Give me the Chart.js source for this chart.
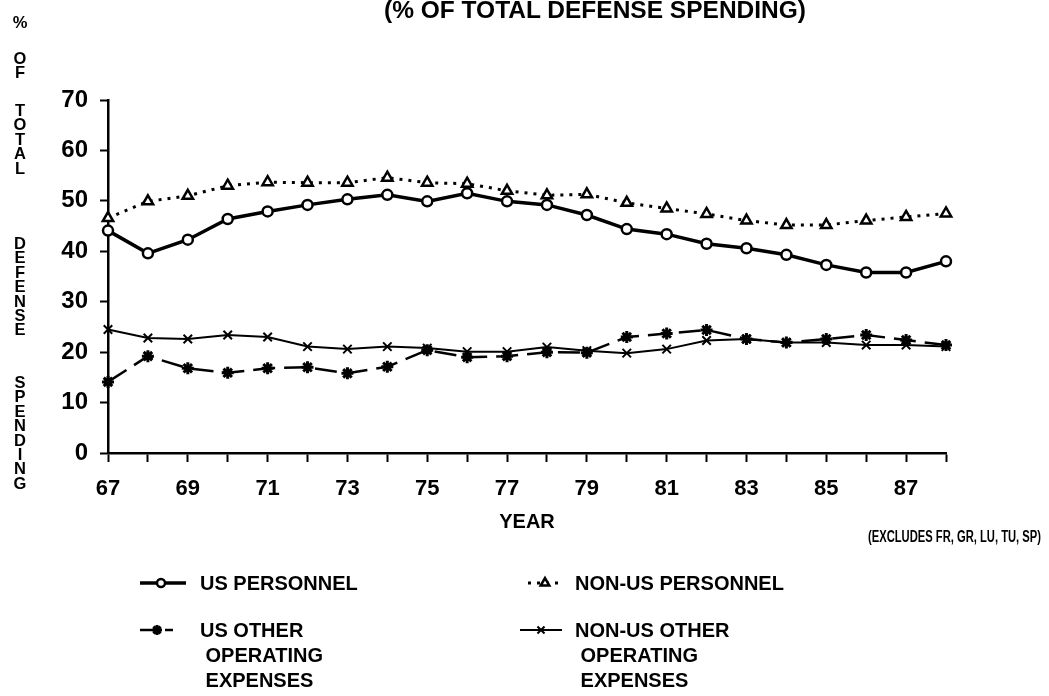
<!DOCTYPE html>
<html>
<head>
<meta charset="utf-8">
<script src="https://cdn.jsdelivr.net/npm/chart.js"></script>
<style>
  body { margin: 0; background: #fff; }
  #wrap { position: relative; width: 1049px; height: 696px; overflow: hidden; font-family: "Liberation Sans", Arial, sans-serif; color: #000; }
  #wrap canvas { position: absolute; left: 0; top: 0; }
  .t { position: absolute; font-weight: bold; white-space: nowrap; }
  .vert { position: absolute; left: 9px; width: 22px; text-align: center; font-weight: bold; font-size: 16.5px; line-height: 14.4px; }
  .leg { font-size: 20px; line-height: 25px; }
</style>
</head>
<body>
<div id="wrap">
  <canvas id="lineChart" width="1049" height="696"></canvas>
  <div class="t" style="left:595px;top:-4px;font-size:24.5px;transform:translateX(-50%);">(% OF TOTAL DEFENSE SPENDING)</div>

  <div class="vert" style="top:15px;">%</div>
  <div class="vert" style="top:51px;">O<br>F</div>
  <div class="vert" style="top:103px;">T<br>O<br>T<br>A<br>L</div>
  <div class="vert" style="top:236px;">D<br>E<br>F<br>E<br>N<br>S<br>E</div>
  <div class="vert" style="top:375px;">S<br>P<br>E<br>N<br>D<br>I<br>N<br>G</div>

  <div class="t" style="left:527px;top:510px;font-size:20px;transform:translateX(-50%);">YEAR</div>
  <div class="t" style="left:868px;top:528px;font-size:16px;transform:scaleX(0.7);transform-origin:left;">(EXCLUDES FR, GR, LU, TU, SP)</div>

  <div class="t leg" style="left:200px;top:571px;">US PERSONNEL</div>
  <div class="t leg" style="left:575px;top:571px;">NON-US PERSONNEL</div>
  <div class="t leg" style="left:200px;top:618px;">US OTHER<br>&nbsp;OPERATING<br>&nbsp;EXPENSES</div>
  <div class="t leg" style="left:575px;top:618px;">NON-US OTHER<br>&nbsp;OPERATING<br>&nbsp;EXPENSES</div>
</div>

<script>
// tahun 1967 - 1988
const years = ["67", "68", "69", "70", "71", "72", "73", "74", "75", "76", "77",
  "78", "79", "80", "81", "82", "83", "84", "85", "86", "87", "88"];

const usPersonnel = [44.1, 39.6, 42.3, 46.4, 47.9, 49.2, 50.3, 51.2, 49.9, 51.5, 49.9,
  49.2, 47.2, 44.4, 43.4, 41.5, 40.6, 39.3, 37.3, 35.8, 35.8, 38.0];
const nonUsPersonnel = [46.6, 49.9, 51.0, 53.0, 53.7, 53.6, 53.6, 54.6, 53.6, 53.4, 52.0,
  51.1, 51.3, 49.6, 48.5, 47.4, 46.1, 45.2, 45.2, 46.1, 46.8, 47.5];
const usOther = [14.1, 19.2, 16.8, 15.9, 16.8, 17.0, 15.8, 17.1, 20.4, 19.0, 19.2,
  20.0, 19.9, 23.0, 23.7, 24.4, 22.6, 21.9, 22.6, 23.4, 22.4, 21.4];
const nonUsOther = [24.5, 22.8, 22.6, 23.4, 23.0, 21.1, 20.6, 21.1, 20.8, 20.1, 20.1,
  21.0, 20.3, 19.8, 20.6, 22.3, 22.6, 21.9, 21.9, 21.4, 21.4, 21.1];

const yTicks = [0, 10, 20, 30, 40, 50, 60, 70];

// gaya tiap seri
const styles = [
  { pointStyle: "circle", radius: 5, borderWidth: 2.5, lineWidth: 3.5, dash: [], fill: "#fff" },
  { pointStyle: "triangle", radius: 6, borderWidth: 2.5, lineWidth: 3, dash: [3, 6], fill: "#fff" },
  { pointStyle: "star", radius: 6, borderWidth: 3, lineWidth: 2.5, dash: [22, 9], fill: "#000" },
  { pointStyle: "crossRot", radius: 6, borderWidth: 2, lineWidth: 2, dash: [], fill: "#000" },
];

function makeDataset(label, data, s) {
  return {
    label: label,
    data: data,
    borderColor: "#000",
    borderWidth: s.lineWidth,
    borderDash: s.dash,
    pointStyle: s.pointStyle,
    pointRadius: s.radius,
    pointBorderWidth: s.borderWidth,
    pointBackgroundColor: s.fill,
    pointBorderColor: "#000",
    tension: 0,
    fill: false,
  };
}

// simbol legenda digambar manual
const legendSymbols = {
  id: "legendSymbols",
  afterDraw(chart) {
    const ctx = chart.ctx;
    const items = [
      { s: styles[0], y: 583, segs: [[140, 186]], px: 161 },
      { s: styles[1], y: 583, segs: [[528, 562]], px: 545 },
      { s: styles[2], y: 630, segs: [[140, 152], [165, 173]], px: 157 },
      { s: styles[3], y: 630, segs: [[520, 562]], px: 541 },
    ];
    ctx.save();
    items.forEach((it) => {
      ctx.strokeStyle = "#000";
      ctx.lineWidth = it.s.lineWidth;
      ctx.setLineDash(it.s.pointStyle === "triangle" ? it.s.dash : []);
      it.segs.forEach((sg) => {
        ctx.beginPath();
        ctx.moveTo(sg[0], it.y);
        ctx.lineTo(sg[1], it.y);
        ctx.stroke();
      });
      ctx.setLineDash([]);
      ctx.fillStyle = it.s.fill;
      ctx.lineWidth = it.s.borderWidth;
      Chart.helpers.drawPoint(ctx, {
        pointStyle: it.s.pointStyle,
        radius: it.s.radius - 1,
        rotation: 0,
        borderWidth: it.s.borderWidth,
      }, it.px, it.y);
    });
    ctx.restore();
  },
};

window.onload = () => {
  const ctx = document.getElementById("lineChart").getContext("2d");
  new Chart(ctx, {
    type: "line",
    data: {
      labels: years,
      datasets: [
        makeDataset("US PERSONNEL", usPersonnel, styles[0]),
        makeDataset("NON-US PERSONNEL", nonUsPersonnel, styles[1]),
        makeDataset("US OTHER OPERATING EXPENSES", usOther, styles[2]),
        makeDataset("NON-US OTHER OPERATING EXPENSES", nonUsOther, styles[3]),
      ],
    },
    options: {
      responsive: false,
      animation: false,
      layout: { padding: { left: 0, right: 103, top: 100, bottom: 183 } },
      plugins: {
        legend: { display: false },
        tooltip: { enabled: false },
      },
      scales: {
        x: {
          type: "category",
          offset: false,
          afterFit: (scale) => { scale.height = 60; },
          grid: { drawOnChartArea: false, drawTicks: true, tickLength: 9, tickWidth: 2, tickColor: "#000" },
          border: { color: "#000", width: 2.5 },
          ticks: {
            autoSkip: false,
            maxRotation: 0,
            padding: 14,
            color: "#000",
            font: { family: "'Liberation Sans', Arial, sans-serif", size: 22, weight: "bold" },
            callback: function (val, i) { return i % 2 === 0 ? years[i] : ""; },
          },
        },
        y: {
          min: 0,
          max: 70,
          afterFit: (scale) => { scale.width = 108; },
          afterBuildTicks: (scale) => { scale.ticks = yTicks.map((v) => ({ value: v })); },
          grid: { drawOnChartArea: false, drawTicks: true, tickLength: 8, tickWidth: 2, tickColor: "#000" },
          border: { color: "#000", width: 2.5 },
          ticks: {
            padding: 12,
            color: "#000",
            font: { family: "'Liberation Sans', Arial, sans-serif", size: 24, weight: "bold" },
          },
        },
      },
    },
    plugins: [legendSymbols],
  });
};
</script>
</body>
</html>
